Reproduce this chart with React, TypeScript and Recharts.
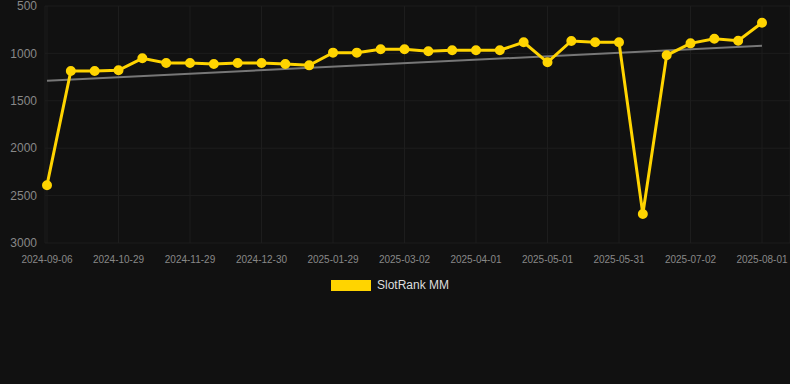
import { LineChart, Line, XAxis, YAxis, CartesianGrid, Legend, ReferenceLine } from "recharts";

const dates = [
  "2024-09-06", "2024-10-11", "2024-10-20", "2024-10-29", "2024-11-08", "2024-11-18",
  "2024-11-29", "2024-12-09", "2024-12-19", "2024-12-30", "2025-01-09", "2025-01-19",
  "2025-01-29", "2025-02-08", "2025-02-18", "2025-03-02", "2025-03-12", "2025-03-22",
  "2025-04-01", "2025-04-11", "2025-04-21", "2025-05-01", "2025-05-11", "2025-05-21",
  "2025-05-31", "2025-06-10", "2025-06-20", "2025-07-02", "2025-07-12", "2025-07-22",
  "2025-08-01",
];

const rank = [
  2390, 1186, 1186, 1178, 1052, 1101, 1101, 1112, 1101, 1101, 1112, 1126,
  992, 992, 957, 957, 978, 967, 967, 967, 883, 1094, 869, 883,
  883, 2694, 1020, 894, 845, 866, 676,
];

const trendEnds = [1288, 919];
const yTicks = [500, 1000, 1500, 2000, 2500, 3000];

const data = dates.map((d, i) => ({ date: d, rank: rank[i] }));

const YELLOW = "#FFD400";
const FONT = "Liberation Sans, Arial, sans-serif";

function LegendBox() {
  return (
    <div style={{ display: "flex", justifyContent: "center", alignItems: "center", fontFamily: FONT, fontSize: 12, color: "#ddd", paddingRight: 10, height: 14 }}>
      <span style={{ display: "inline-block", width: 40, height: 11, background: YELLOW, marginRight: 6 }} />
      <span>SlotRank MM</span>
    </div>
  );
}

export default function App() {
  return (
    <div style={{ position: "absolute", left: 0, top: 0, width: 790, height: 384, background: "#111111" }}>
      <LineChart width={790} height={292} data={data} margin={{ top: 6, right: 0, left: 0, bottom: 0 }}>
        <CartesianGrid stroke="#1d1d1d" />
        <XAxis
          dataKey="date"
          interval={2}
          padding={{ left: 2, right: 28 }}
          tick={{ fill: "#888", fontSize: 10, fontFamily: FONT }}
          tickLine={false}
          axisLine={false}
          tickMargin={7}
          height={35}
        />
        <YAxis
          reversed
          domain={[500, 3000]}
          ticks={yTicks}
          interval={0}
          width={45}
          tick={{ fill: "#888", fontSize: 12, fontFamily: FONT }}
          tickLine={false}
          axisLine={false}
        />
        <ReferenceLine
          segment={[{ x: dates[0], y: trendEnds[0] }, { x: dates[dates.length - 1], y: trendEnds[1] }]}
          stroke="#777"
          strokeWidth={2}
        />
        <Line
          dataKey="rank"
          stroke={YELLOW}
          strokeWidth={3}
          dot={{ r: 4, fill: YELLOW, stroke: YELLOW, strokeWidth: 2 }}
          isAnimationActive={false}
        />
        <Legend verticalAlign="bottom" content={() => <LegendBox />} />
      </LineChart>
    </div>
  );
}
